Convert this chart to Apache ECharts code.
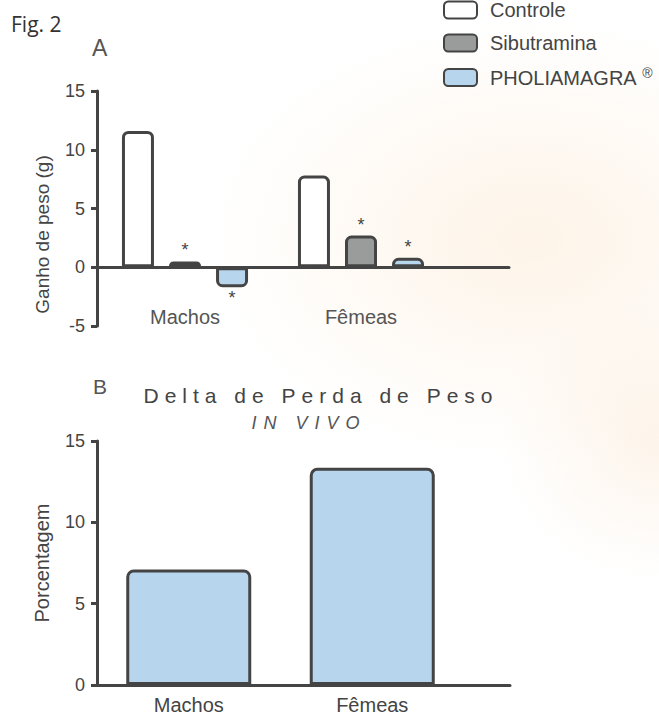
<!DOCTYPE html>
<html>
<head>
<meta charset="utf-8">
<script src="https://cdn.jsdelivr.net/npm/echarts@6/dist/echarts.min.js"></script>
<style>
  html, body { margin: 0; padding: 0; }
  body {
    background:
      radial-gradient(ellipse 320px 220px at 530px 240px, rgba(252, 230, 204, 0.45), rgba(255, 255, 255, 0) 100%),
      radial-gradient(ellipse 160px 140px at 659px 440px, rgba(250, 224, 196, 0.35), rgba(255, 255, 255, 0) 100%),
      #fff;
  }
  #main { width: 659px; height: 715px; }
  /* titulos espacados do painel B */
  #main text[style*="Lato"] { letter-spacing: 6px; }
  #main text[style*="italic"] { letter-spacing: 7px; }
</style>
</head>
<body>
<div id="main"></div>
<script>
// Painel A - ganho de peso (g)
var grupos = ['Machos', 'Fêmeas'];
var nomesSeries = ['Controle', 'Sibutramina', 'PHOLIAMAGRA'];
var controle = [11.6, 7.8];
var sibutramina = [0.5, 2.7];
var pholiamagra = [-1.7, 0.8];
// asteriscos (diferença significativa)
var signifControle = [false, false];
var signifSibutramina = [true, true];
var signifPholiamagra = [true, true];

// Painel B - delta de perda de peso in vivo (%)
var perdaCategorias = ['Machos', 'Fêmeas'];
var perdaValores = [7.1, 13.35];

var corBorda = '#444';
var cores = ['#ffffff', '#9a9c9c', '#b8d5ee'];

function montaDados(valores, signif) {
  var out = [];
  for (var i = 0; i < valores.length; i++) {
    var neg = valores[i] < 0;
    out.push({
      value: valores[i],
      itemStyle: { borderRadius: neg ? [0, 0, 5, 5] : [5, 5, 0, 0] },
      label: { show: signif[i], position: neg ? 'bottom' : 'top' }
    });
  }
  return out;
}

var valoresA = [controle, sibutramina, pholiamagra];
var signifA = [signifControle, signifSibutramina, signifPholiamagra];
var seriesA = [];
for (var s = 0; s < nomesSeries.length; s++) {
  seriesA.push({
    name: nomesSeries[s],
    type: 'bar',
    xAxisIndex: 0,
    yAxisIndex: 0,
    barWidth: 32,
    barGap: '47%',
    itemStyle: { color: cores[s], borderColor: corBorda, borderWidth: 3 },
    label: {
      formatter: '*',
      fontSize: 18,
      color: '#444',
      fontFamily: 'Liberation Sans',
      distance: 2
    },
    data: montaDados(valoresA[s], signifA[s])
  });
}

var eixoY = {
  min: -5, max: 15, interval: 5,
  axisLine: { show: true, lineStyle: { color: corBorda, width: 3 } },
  axisTick: { show: true, length: 6, lineStyle: { color: corBorda, width: 3 } },
  axisLabel: { fontSize: 18, color: '#444', margin: 12, fontFamily: 'Liberation Sans' },
  splitLine: { show: false }
};

var myChart = echarts.init(document.getElementById('main'), null, { renderer: 'svg' });

var option = {
  animation: false,
  backgroundColor: 'transparent',
  textStyle: { fontFamily: 'Liberation Sans' },
  title: [
    { text: 'Fig. 2', left: 6, top: 8, textStyle: { fontSize: 21, fontWeight: 'normal', color: '#333', fontFamily: 'Open Sans' } },
    { text: 'A', left: 87, top: 31, textStyle: { fontSize: 23, fontWeight: 'normal', color: '#555', fontFamily: 'Liberation Sans' } },
    { text: 'B', left: 88, top: 371, textStyle: { fontSize: 21, fontWeight: 'normal', color: '#555', fontFamily: 'Liberation Sans' } },
    { text: 'Delta de Perda de Peso', left: 316, top: 380, textAlign: 'center',
      textStyle: { fontSize: 21, fontWeight: 'normal', color: '#444', fontFamily: '"Liberation Sans", Lato' } },
    { text: 'IN VIVO', left: 304, top: 409, textAlign: 'center',
      textStyle: { fontSize: 18, fontWeight: 'normal', fontStyle: 'italic', color: '#555', fontFamily: 'Liberation Sans' } }
  ],
  legend: {
    orient: 'vertical',
    left: 443,
    top: 0,
    padding: 0,
    itemWidth: 33,
    itemHeight: 17,
    itemGap: 13,
    icon: 'roundRect',
    data: nomesSeries,
    textStyle: {
      fontSize: 20,
      color: '#444',
      fontFamily: 'Liberation Sans',
      padding: [0, 0, 0, 8],
      rich: { sup: { fontSize: 14, color: '#444', padding: [0, 0, 9, 0] } }
    },
    formatter: function (name) {
      return name === 'PHOLIAMAGRA' ? 'PHOLIAMAGRA {sup|®}' : name;
    }
  },
  grid: [
    { left: 97, top: 91, width: 352, height: 235 },
    { left: 97, top: 91, width: 412, height: 235 },
    { left: 97, top: 441, width: 367, height: 244 },
    { left: 97, top: 441, width: 413, height: 244 }
  ],
  xAxis: [
    {
      gridIndex: 0, type: 'category', data: grupos, position: 'bottom',
      axisLine: { show: false, onZero: false }, axisTick: { show: false },
      axisLabel: { fontSize: 20, color: '#555', margin: -19 }
    },
    {
      gridIndex: 1, type: 'value', min: 0, max: 1,
      axisLine: { show: true, onZero: true, lineStyle: { color: corBorda, width: 3 } },
      axisTick: { show: false }, axisLabel: { show: false }, splitLine: { show: false }
    },
    {
      gridIndex: 2, type: 'category', data: perdaCategorias,
      axisLine: { show: false }, axisTick: { show: false },
      axisLabel: { fontSize: 20, color: '#444', margin: 10 }
    },
    {
      gridIndex: 3, type: 'value', min: 0, max: 1,
      axisLine: { show: true, lineStyle: { color: corBorda, width: 3 } },
      axisTick: { show: false }, axisLabel: { show: false }, splitLine: { show: false }
    }
  ],
  yAxis: [
    Object.assign({}, eixoY, {
      gridIndex: 0,
      name: 'Ganho de peso (g)', nameLocation: 'middle', nameGap: 45,
      nameTextStyle: { fontSize: 19, color: '#444', padding: [0, 52, 0, 0] }
    }),
    { gridIndex: 1, min: -5, max: 15, interval: 5, show: false },
    Object.assign({}, eixoY, {
      gridIndex: 2, min: 0, max: 15,
      name: 'Porcentagem', nameLocation: 'middle', nameGap: 45,
      nameTextStyle: { fontSize: 20, color: '#444' }
    }),
    { gridIndex: 3, min: 0, max: 15, interval: 5, show: false }
  ],
  series: seriesA.concat([
    {
      name: 'Delta de Perda de Peso',
      type: 'bar',
      xAxisIndex: 2,
      yAxisIndex: 2,
      barWidth: 125,
      itemStyle: { color: cores[2], borderColor: corBorda, borderWidth: 3, borderRadius: [6, 6, 0, 0] },
      data: perdaValores
    }
  ])
};

myChart.setOption(option);
</script>
</body>
</html>
